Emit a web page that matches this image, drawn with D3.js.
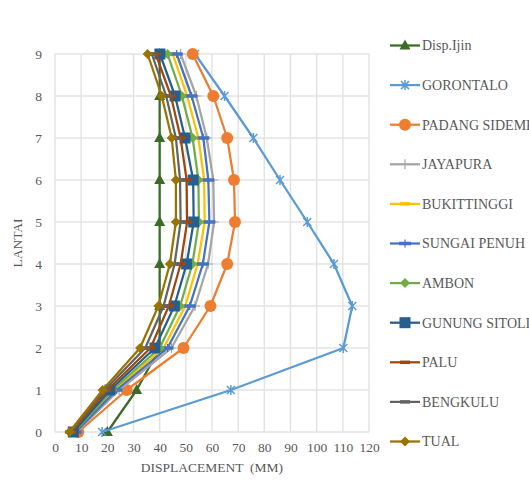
<!DOCTYPE html>
<html><head><meta charset="utf-8">
<script src="https://cdn.jsdelivr.net/npm/d3@7"></script>
<style>body{margin:0;background:#fff;}svg{display:block;}</style>
</head><body><svg id="c" width="529" height="481"></svg>
<script>
const floors = [0,1,2,3,4,5,6,7,8,9];
const xTicks = [0,10,20,30,40,50,60,70,80,90,100,110,120];
const seriesNames = ["Disp.Ijin","GORONTALO","PADANG SIDEMPUAN","JAYAPURA","BUKITTINGGI","SUNGAI PENUH","AMBON","GUNUNG SITOLI","PALU","BENGKULU","TUAL"];
const dispIjin   = [20, 31.2, 40, 40, 40, 40, 40, 40, 40, 40];
const gorontalo  = [18, 67.2, 110.2, 113.6, 106.6, 96.4, 86.0, 75.8, 64.8, 53.5];
const padang     = [8.9, 27.4, 49.1, 59.4, 65.8, 68.8, 68.4, 65.8, 60.5, 52.6];
const jayapura   = [8.3, 24.5, 44.5, 53.5, 58.5, 60.8, 60.5, 58.0, 54.0, 48.0];
const bukittinggi= [7.6, 22.8, 41.5, 49.8, 54.5, 57.2, 57.0, 54.8, 50.5, 45.0];
const sungaiPenuh= [7.9, 23.5, 43.0, 51.5, 56.5, 59.0, 58.6, 56.7, 52.2, 46.5];
const ambon      = [7.3, 22.0, 40.0, 47.8, 52.5, 55.0, 54.8, 52.6, 48.5, 43.0];
const gunungSitoli=[7.0, 21.0, 38.2, 45.6, 50.3, 53.0, 52.8, 49.7, 45.9, 40.1];
const palu       = [6.3, 20.0, 36.5, 43.5, 48.0, 50.5, 50.3, 48.0, 44.3, 38.5];
const bengkulu   = [5.8, 19.0, 34.5, 41.5, 45.7, 48.0, 47.8, 46.2, 42.5, 37.0];
const tual       = [5.5, 18.2, 32.5, 39.5, 43.9, 46.2, 46.2, 44.6, 40.8, 35.4];
const seriesValues = [dispIjin,gorontalo,padang,jayapura,bukittinggi,sungaiPenuh,ambon,gunungSitoli,palu,bengkulu,tual];
const colors = ["#3b6b26","#5b9bd5","#ed7d31","#a5a5a5","#ffc000","#4472c4","#70ad47","#255e91","#9e480e","#636363","#997300"];
const markers = ["triangle","star","circle","plus","dash","bar","diamond","square","dash","dash","diamond"];

const svg = d3.select("#c");
const x = d3.scaleLinear().domain([0,120]).range([55,369]);
const y = d3.scaleLinear().domain([0,9]).range([432,54]);
const font = "'Liberation Serif','Times New Roman',serif";
const txt = "#595959";

// grid
const grid = svg.append("g");
grid.selectAll("line.v").data(xTicks).join("line")
  .attr("x1",d=>x(d)).attr("x2",d=>x(d)).attr("y1",y(0)).attr("y2",y(9))
  .attr("stroke","#e3e3e3").attr("stroke-width",1.5);
grid.selectAll("line.h").data(floors).join("line")
  .attr("y1",d=>y(d)).attr("y2",d=>y(d)).attr("x1",x(0)).attr("x2",x(120))
  .attr("stroke","#e3e3e3").attr("stroke-width",1.5);

// axes (labels only)
const xAxis = svg.append("g").attr("transform",`translate(0,${y(0)})`)
  .call(d3.axisBottom(x).tickValues(xTicks).tickSize(0).tickPadding(10));
const yAxis = svg.append("g").attr("transform",`translate(${x(0)},0)`)
  .call(d3.axisLeft(y).tickValues(floors).tickSize(0).tickPadding(13).tickFormat(d3.format("d")));
[xAxis,yAxis].forEach(a=>{
  a.select(".domain").remove();
  a.selectAll("text").attr("font-family",font).attr("font-size",13.5).attr("fill",txt);
});

svg.append("text").attr("x",212).attr("y",472).attr("text-anchor","middle")
  .attr("font-family",font).attr("font-size",13.5).attr("fill",txt).attr("xml:space","preserve").text("DISPLACEMENT  (MM)");
svg.append("text").attr("transform","translate(22,243) rotate(-90)").attr("text-anchor","middle")
  .attr("font-family",font).attr("font-size",13.5).attr("fill",txt).text("LANTAI");

function drawMarker(g, type, color){
  switch(type){
    case "triangle": g.append("path").attr("d","M0,-6L5.5,4L-5.5,4Z").attr("fill",color); break;
    case "circle": g.append("circle").attr("r",6).attr("fill",color); break;
    case "square": g.append("rect").attr("x",-5.5).attr("y",-5.5).attr("width",11).attr("height",11).attr("fill",color); break;
    case "diamond": g.append("path").attr("d","M0,-5L5,0L0,5L-5,0Z").attr("fill",color); break;
    case "star": g.append("path").attr("d","M-4,-4L4,4M-4,4L4,-4M0,-5L0,5").attr("stroke",color).attr("stroke-width",1.5).attr("fill","none"); break;
    case "plus": g.append("path").attr("d","M-5,0L5,0M0,-5L0,5").attr("stroke",color).attr("stroke-width",1.2).attr("fill","none"); break;
    case "bar": g.append("path").attr("d","M-6,0L6,0").attr("stroke",color).attr("stroke-width",3.5); g.append("path").attr("d","M0,-4L0,4").attr("stroke",color).attr("stroke-width",1.2); break;
    case "dash": g.append("path").attr("d","M-5,0L5,0").attr("stroke",color).attr("stroke-width",3.5); break;
  }
}

const line = d3.line().x(d=>x(d[0])).y(d=>y(d[1]));
seriesValues.forEach((vals,i)=>{
  const pts = vals.map((v,j)=>[v,floors[j]]);
  const g = svg.append("g");
  g.append("path").attr("d",line(pts)).attr("fill","none").attr("stroke",colors[i])
    .attr("stroke-width",2.25).attr("stroke-linejoin","round");
  pts.forEach(p=>{
    const m = g.append("g").attr("transform",`translate(${x(p[0])},${y(p[1])})`);
    drawMarker(m, markers[i], colors[i]);
  });
});

// legend
const lg = svg.append("g");
seriesNames.forEach((name,i)=>{
  const ly = 45.5 + i*39.6;
  const g = lg.append("g").attr("transform",`translate(0,${ly})`);
  g.append("line").attr("x1",390).attr("x2",420).attr("y1",0).attr("y2",0)
    .attr("stroke",colors[i]).attr("stroke-width",2.25);
  const m = g.append("g").attr("transform","translate(405,0)");
  drawMarker(m, markers[i], colors[i]);
  g.append("text").attr("x",422).attr("y",0).attr("dy","0.35em")
    .attr("font-family",font).attr("font-size",14).attr("fill",txt).text(name);
});
</script></body></html>
